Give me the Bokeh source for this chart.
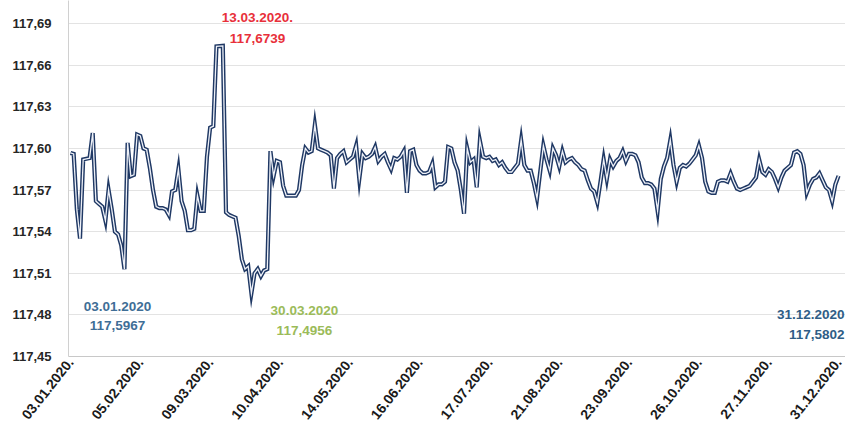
import math
from bokeh.plotting import figure
from bokeh.models import Label, FixedTicker, CustomJSTickFormatter, Range1d, ColumnDataSource
from bokeh.embed import file_html
from bokeh.resources import INLINE

# daily EUR/RSD middle rate, 2020
rate = [
    117.5967, 117.5960, 117.5560, 117.5350, 117.5920, 117.5925, 117.5930, 117.6110, 117.5620, 117.5600,
    117.5580, 117.5480, 117.5700, 117.5560, 117.5400, 117.5380, 117.5300, 117.5130, 117.6040, 117.5800,
    117.5810, 117.6100, 117.6090, 117.6000, 117.5990, 117.5860, 117.5700, 117.5580, 117.5570, 117.5570,
    117.5560, 117.5520, 117.5690, 117.5700, 117.5850, 117.5620, 117.5550, 117.5410, 117.5410, 117.5420,
    117.5660, 117.5550, 117.5550, 117.5940, 117.6150, 117.6160, 117.6735, 117.6737, 117.6739, 117.5540,
    117.5520, 117.5510, 117.5500, 117.5370, 117.5200, 117.5130, 117.5150, 117.4956, 117.5100, 117.5130,
    117.5080, 117.5120, 117.5130, 117.5980, 117.5800, 117.5910, 117.5900, 117.5730, 117.5660, 117.5660,
    117.5660, 117.5660, 117.5700, 117.5880, 117.6000, 117.5970, 117.5980, 117.6170, 117.6000, 117.5990,
    117.5980, 117.5970, 117.5950, 117.5710, 117.5930, 117.5960, 117.5980, 117.5900, 117.5920, 117.5940,
    117.6020, 117.5780, 117.5960, 117.5930, 117.5940, 117.5960, 117.6010, 117.5910, 117.5940, 117.5960,
    117.5900, 117.5850, 117.5930, 117.5920, 117.5940, 117.5980, 117.5680, 117.5980, 117.5990, 117.5880,
    117.5840, 117.5820, 117.5820, 117.5830, 117.5890, 117.5720, 117.5740, 117.5740, 117.5760, 117.6010,
    117.6000, 117.5900, 117.5840, 117.5700, 117.5530, 117.6000, 117.5900, 117.5920, 117.5720, 117.6055,
    117.5940, 117.5930, 117.5940, 117.5910, 117.5920, 117.5880, 117.5900, 117.5860, 117.5830, 117.5830,
    117.5860, 117.5890, 117.6060, 117.5880, 117.5840, 117.5840, 117.5750, 117.5640, 117.5830, 117.6020,
    117.5920, 117.5840, 117.6000, 117.5950, 117.5870, 117.5980, 117.5900, 117.5920, 117.5930, 117.5900,
    117.5880, 117.5850, 117.5840, 117.5770, 117.5710, 117.5690, 117.5610, 117.5760, 117.5920, 117.5780,
    117.5920, 117.5870, 117.5910, 117.5930, 117.5980, 117.5910, 117.5960, 117.5960, 117.5950, 117.5900,
    117.5790, 117.5750, 117.5750, 117.5740, 117.5710, 117.5550, 117.5780, 117.5870, 117.5930, 117.6060,
    117.5880, 117.5760, 117.5860, 117.5880, 117.5870, 117.5890, 117.5920, 117.5950, 117.6020, 117.5930,
    117.5760, 117.5690, 117.5680, 117.5680, 117.5760, 117.5770, 117.5770, 117.5760, 117.5820, 117.5760,
    117.5710, 117.5700, 117.5710, 117.5720, 117.5730, 117.5760, 117.5790, 117.5920, 117.5830, 117.5810,
    117.5850, 117.5830, 117.5780, 117.5720, 117.5790, 117.5840, 117.5860, 117.5880, 117.5970, 117.5980,
    117.5960, 117.5880, 117.5680, 117.5740, 117.5780, 117.5790, 117.5820, 117.5770, 117.5720, 117.5700,
    117.5620, 117.5740, 117.5802,
]

x_tick_pos = [0, 22, 44, 66, 88, 110, 132, 154, 176, 198, 220, 242]
x_tick_labels = ["03.01.2020.", "05.02.2020.", "09.03.2020.", "10.04.2020.", "14.05.2020.",
                 "16.06.2020.", "17.07.2020.", "21.08.2020.", "23.09.2020.", "26.10.2020.",
                 "27.11.2020.", "31.12.2020."]
y_ticks = [117.45, 117.48, 117.51, 117.54, 117.57, 117.60, 117.63, 117.66, 117.69]

# annotated points: (index, date text, value text)
ann_first = (0, "03.01.2020", "117,5967")
ann_max = (48, "13.03.2020.", "117,6739")
ann_min = (57, "30.03.2020", "117,4956")
ann_last = (242, "31.12.2020", "117,5802")

idx = list(range(len(rate)))
src = ColumnDataSource(dict(x=idx, y=rate))

p = figure(width=845, height=433, output_backend="svg", toolbar_location=None,
           x_range=Range1d(-0.63, 244.2), y_range=Range1d(117.45, 117.7066),
           min_border_left=68, min_border_right=0, min_border_top=0, min_border_bottom=77)
p.title = None
p.outline_line_color = None
p.background_fill_color = "white"
p.border_fill_color = "white"

p.xgrid.grid_line_color = None
p.ygrid.grid_line_color = "#e3e3e3"
p.ygrid.grid_line_width = 1

p.yaxis.ticker = FixedTicker(ticks=y_ticks)
p.yaxis.formatter = CustomJSTickFormatter(code="return tick.toFixed(2).replace('.', ',');")
p.yaxis.axis_line_color = "#d0d0d0"
p.yaxis.major_tick_line_color = None
p.yaxis.minor_tick_line_color = None
p.yaxis.major_label_standoff = 11
p.yaxis.major_label_text_font = "Liberation Sans"
p.yaxis.major_label_text_font_style = "bold"
p.yaxis.major_label_text_font_size = "13px"
p.yaxis.major_label_text_color = "#262626"

p.xaxis.ticker = FixedTicker(ticks=x_tick_pos)
p.xaxis.major_label_overrides = {k: v for k, v in zip(x_tick_pos, x_tick_labels)}
p.xaxis.major_label_orientation = 0.9
p.xaxis.axis_line_color = "#c8c8c8"
p.xaxis.major_tick_line_color = None
p.xaxis.minor_tick_line_color = None
p.xaxis.major_label_standoff = -3
p.xaxis.major_label_text_font = "Liberation Sans"
p.xaxis.major_label_text_font_style = "bold"
p.xaxis.major_label_text_font_size = "14px"
p.xaxis.major_label_text_color = "#1a1a1a"

p.line("x", "y", source=src, line_color="#1f3864", line_width=4.2, line_join="miter")
p.line("x", "y", source=src, line_color="#eef1f8", line_width=1.3, line_join="miter")

def add_pair(xv, y1, y2, t1, t2, color, align="center"):
    for yy, tt in ((y1, t1), (y2, t2)):
        p.add_layout(Label(x=xv, y=yy, text=tt, text_color=color, text_font="Liberation Sans",
                           text_font_style="bold", text_font_size="13.5px",
                           text_align=align, text_baseline="middle"))

add_pair(ann_first[0] + 14.8, 117.4860, 117.4723, ann_first[1], ann_first[2], "#3f6e96")
add_pair(ann_max[0] + 10.9, 117.6943, 117.6792, ann_max[1], ann_max[2], "#e8303a")
add_pair(ann_min[0] + 16.7, 117.4832, 117.4687, ann_min[1], ann_min[2], "#9bbb59")
add_pair(ann_last[0] + 1.9, 117.4803, 117.4659, ann_last[1], ann_last[2], "#2f5d86", align="right")

open("out.html", "w").write(file_html(p, INLINE))
